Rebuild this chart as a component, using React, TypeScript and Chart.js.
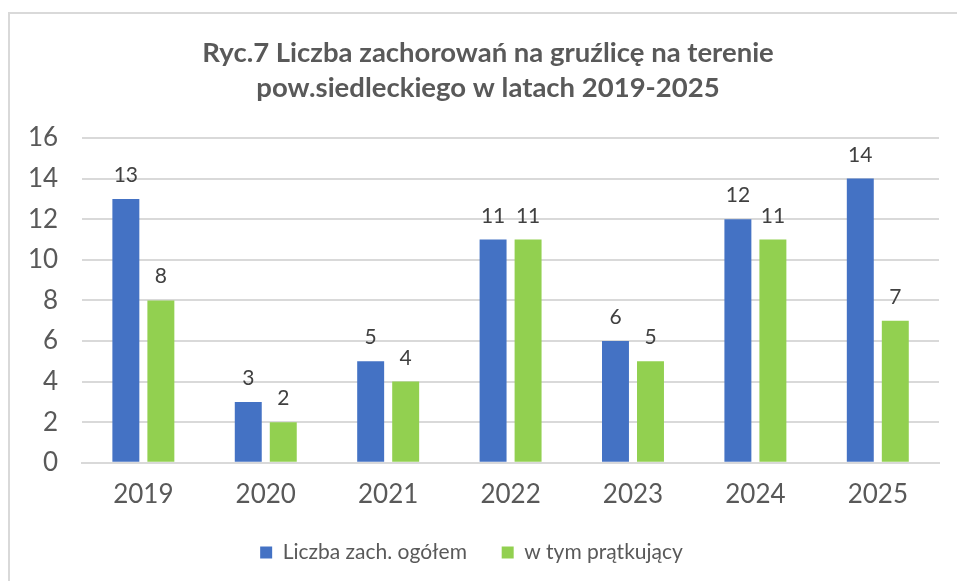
import React, { useEffect, useRef } from "react";
import { Chart, registerables } from "chart.js";

Chart.register(...registerables);

const categories = ["2019", "2020", "2021", "2022", "2023", "2024", "2025"];
const totalCases = [13, 3, 5, 11, 6, 12, 14];
const smearPositive = [8, 2, 4, 11, 5, 11, 7];
const seriesNames = ["Liczba zach. ogółem", "w tym prątkujący"];
const titleLines = [
  "Ryc.7 Liczba zachorowań na gruźlicę na terenie",
  "pow.siedleckiego w latach 2019-2025",
];
const yTicks = [0, 2, 4, 6, 8, 10, 12, 14, 16];

const FONT = "Lato, 'DejaVu Sans', sans-serif";

const valueLabels = {
  id: "valueLabels",
  afterDatasetsDraw(chart: any) {
    const ctx = chart.ctx;
    ctx.save();
    ctx.font = `21px ${FONT}`;
    ctx.fillStyle = "#404040";
    ctx.textAlign = "center";
    ctx.textBaseline = "alphabetic";
    chart.data.datasets.forEach((ds: any, i: number) => {
      const meta = chart.getDatasetMeta(i);
      meta.data.forEach((el: any, j: number) => {
        ctx.fillText(String(ds.data[j]), el.x, el.y - 17);
      });
    });
    ctx.restore();
  },
};

const chartTitle = {
  id: "chartTitle",
  afterDraw(chart: any) {
    const ctx = chart.ctx;
    ctx.save();
    ctx.font = `bold 27.5px ${FONT}`;
    ctx.fillStyle = "#595959";
    ctx.textAlign = "center";
    ctx.textBaseline = "middle";
    const cx = 488;
    titleLines.forEach((line, i) => {
      ctx.fillText(line, cx, 53 + i * 35);
    });
    ctx.restore();
  },
};

export default function App() {
  const ref = useRef<HTMLCanvasElement | null>(null);
  useEffect(() => {
    if (!ref.current) return;
    const chart = new Chart(ref.current, {
      type: "bar",
      data: {
        labels: categories,
        datasets: [
          {
            label: seriesNames[0],
            data: totalCases,
            backgroundColor: "#4472C4",
            barPercentage: 0.77,
            categoryPercentage: 0.572,
          },
          {
            label: seriesNames[1],
            data: smearPositive,
            backgroundColor: "#92D050",
            barPercentage: 0.77,
            categoryPercentage: 0.572,
          },
        ],
      },
      options: {
        responsive: false,
        animation: false,
        layout: { padding: { left: 4, right: 18, top: 138, bottom: 8 } },
        plugins: {
          title: { display: false },
          legend: {
            position: "bottom",
            labels: {
              color: "#595959",
              font: { family: FONT, size: 21 },
              boxWidth: 12,
              boxHeight: 12,
              padding: 24,
              generateLabels: (chart: any) => {
                const items = Chart.defaults.plugins.legend.labels.generateLabels(chart);
                items.forEach((it: any, i: number) => {
                  if (i === 0) it.text = it.text + "  ";
                });
                return items;
              },
            },
          },
          tooltip: { enabled: false },
        },
        scales: {
          x: {
            grid: { display: false },
            border: { color: "#d9d9d9", width: 2 },
            ticks: { color: "#595959", font: { family: FONT, size: 26 }, padding: 8 },
          },
          y: {
            min: 0,
            max: 16,
            afterBuildTicks: (axis: any) => {
              axis.ticks = yTicks.map((v) => ({ value: v }));
            },
            grid: { color: "#d9d9d9", lineWidth: 2, drawTicks: false },
            border: { display: false },
            ticks: { color: "#595959", font: { family: FONT, size: 26 }, padding: 24 },
          },
        },
      },
      plugins: [valueLabels, chartTitle],
    });
    return () => chart.destroy();
  }, []);
  return (
    <>
      <canvas
        ref={ref}
        width={957}
        height={581}
        style={{ position: "fixed", left: 0, top: 0, width: 957, height: 581 }}
      />
      <div
        style={{
          position: "fixed",
          left: 8,
          top: 12,
          right: -20,
          bottom: -20,
          borderLeft: "2px solid #d9d9d9",
          borderTop: "2px solid #d9d9d9",
          pointerEvents: "none",
        }}
      />
    </>
  );
}
